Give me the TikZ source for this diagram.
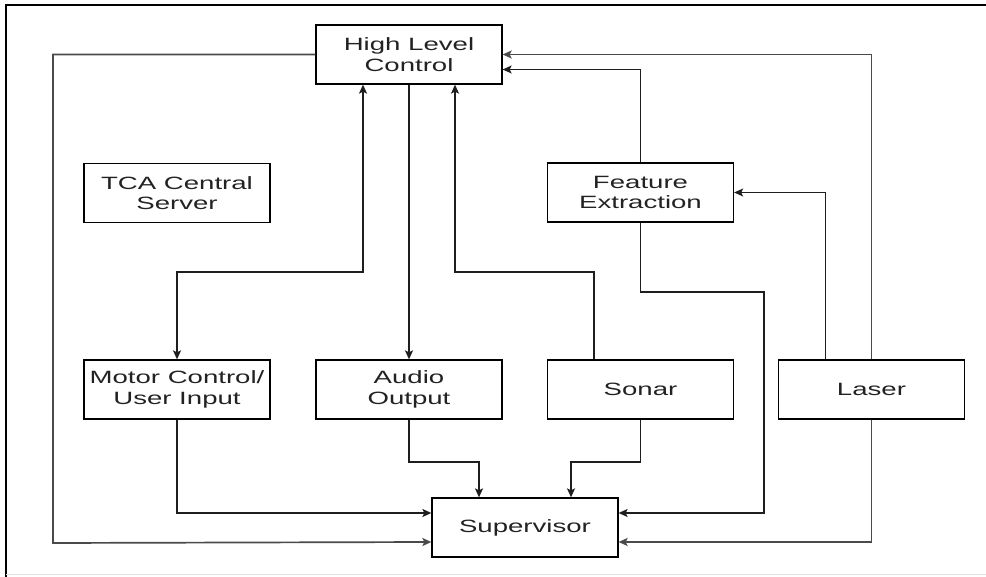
\documentclass[tikz,border=0pt]{standalone}
\usepackage{fontspec}
\setmainfont{Liberation Sans}[FakeStretch=1.55]
\usetikzlibrary{arrows.meta}
\definecolor{txt}{HTML}{222222}
\definecolor{ln}{HTML}{1E1E1E}
\definecolor{lng}{HTML}{4A4A4A}
\tikzset{
  blk/.style={draw=black, line width=1.3pt, fill=white, minimum width=186pt, minimum height=59pt,
    inner sep=0pt, align=center, text=txt, font=\fontsize{17.8}{20.5}\selectfont},
  conn/.style={draw=ln, line width=1.5pt, -{Stealth[length=9pt,width=8pt,inset=2pt]}},
  conng/.style={conn, draw=lng, line width=1.7pt},
  conn2/.style={draw=ln, line width=1.5pt, {Stealth[length=9pt,width=8pt,inset=2pt]}-{Stealth[length=9pt,width=8pt,inset=2pt]}}
}
\begin{document}
\begin{tikzpicture}[x=1pt,y=-1pt]
\useasboundingbox (0,0) rectangle (986,577);
% frame
\draw[black, line width=1.4pt] (6,577) -- (6,5) -- (986,5);
\draw[black!12, line width=1pt] (6,574) -- (986,574);
% nodes
\node[blk] (hlc) at (409,54.5) {High Level\\Control};
\node[blk] (tca) at (177,193) {TCA Central\\Server};
\node[blk] (fe) at (640.5,192.5) {Feature\\Extraction};
\node[blk] (motor) at (177,389.5) {Motor Control/\\User Input};
\node[blk] (audio) at (409,389.5) {Audio\\Output};
\node[blk] (sonar) at (640.5,389.5) {Sonar};
\node[blk] (laser) at (871.5,389.5) {Laser};
\node[blk] (sup) at (525,527.5) {Supervisor};
% bend coordinates
\coordinate (lb) at (53,543);
\coordinate (fec) at (764,292);
\coordinate (mcy) at (363,272);
\coordinate (snc) at (455,272);
\coordinate (ab) at (479,462);
\coordinate (sb) at (571,462);
% connectors
\draw[conng] (hlc.west) -| (lb) -- ([yshift=-14.5pt]sup.west);
\draw[conng] (laser.north) |- (hlc.east);
\draw[conn] (fe.north) |- ([yshift=-15pt]hlc.east);
\draw[conn] ([xshift=-46pt]laser.north) |- (fe.east);
\draw[conn] (fe.south) |- (fec) |- ([yshift=14.5pt]sup.east);
\draw[conng] (laser.south) |- ([yshift=-14.5pt]sup.east);
\draw[conn2] ([xshift=-46pt]hlc.south) -- (mcy) -| (motor.north);
\draw[conn] (hlc.south) -- (audio.north);
\draw[conn] ([xshift=-46.5pt]sonar.north) |- (snc) -- ([xshift=46pt]hlc.south);
\draw[conn] (audio.south) |- (ab) -- ([xshift=-46pt]sup.north);
\draw[conn] (sonar.south) |- (sb) -- ([xshift=46pt]sup.north);
\draw[conn] (motor.south) |- ([yshift=14.5pt]sup.west);
\end{tikzpicture}
\end{document}
